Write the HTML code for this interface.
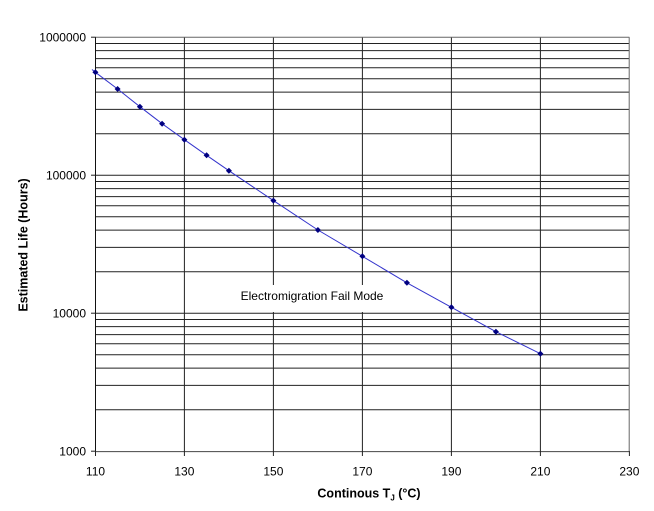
<!DOCTYPE html>
<html><head><meta charset="utf-8"><style>
html,body{margin:0;padding:0;background:#fff;}
svg{display:block;font-family:"Liberation Sans",Arial,sans-serif;}
</style></head><body>
<svg width="654" height="511" viewBox="0 0 654 511" xmlns="http://www.w3.org/2000/svg">
<rect width="654" height="511" fill="#fff"/>
<g stroke="#222" stroke-width="1" fill="none">
<!-- decade 1e5-1e6 minor -->
<line x1="95.4" x2="629.4" y1="43.5" y2="43.5"/>
<line x1="95.4" x2="629.4" y1="50.6" y2="50.6"/>
<line x1="95.4" x2="629.4" y1="58.6" y2="58.6"/>
<line x1="95.4" x2="629.4" y1="67.8" y2="67.8"/>
<line x1="95.4" x2="629.4" y1="78.7" y2="78.7"/>
<line x1="95.4" x2="629.4" y1="92.1" y2="92.1"/>
<line x1="95.4" x2="629.4" y1="109.4" y2="109.4"/>
<line x1="95.4" x2="629.4" y1="133.7" y2="133.7"/>
<line x1="95.4" x2="629.4" y1="175.2" y2="175.2"/>
<!-- decade 1e4-1e5 -->
<line x1="95.4" x2="629.4" y1="181.5" y2="181.5"/>
<line x1="95.4" x2="629.4" y1="188.6" y2="188.6"/>
<line x1="95.4" x2="629.4" y1="196.6" y2="196.6"/>
<line x1="95.4" x2="629.4" y1="205.8" y2="205.8"/>
<line x1="95.4" x2="629.4" y1="216.7" y2="216.7"/>
<line x1="95.4" x2="629.4" y1="230.1" y2="230.1"/>
<line x1="95.4" x2="629.4" y1="247.4" y2="247.4"/>
<line x1="95.4" x2="629.4" y1="271.7" y2="271.7"/>
<line x1="95.4" x2="629.4" y1="313.2" y2="313.2"/>
<!-- decade 1e3-1e4 -->
<line x1="95.4" x2="629.4" y1="319.5" y2="319.5"/>
<line x1="95.4" x2="629.4" y1="326.6" y2="326.6"/>
<line x1="95.4" x2="629.4" y1="334.6" y2="334.6"/>
<line x1="95.4" x2="629.4" y1="343.8" y2="343.8"/>
<line x1="95.4" x2="629.4" y1="354.7" y2="354.7"/>
<line x1="95.4" x2="629.4" y1="368.1" y2="368.1"/>
<line x1="95.4" x2="629.4" y1="385.4" y2="385.4"/>
<line x1="95.4" x2="629.4" y1="409.7" y2="409.7"/>
<!-- verticals -->
<line x1="184.4" x2="184.4" y1="37.2" y2="451.2"/>
<line x1="273.4" x2="273.4" y1="37.2" y2="451.2"/>
<line x1="362.4" x2="362.4" y1="37.2" y2="451.2"/>
<line x1="451.4" x2="451.4" y1="37.2" y2="451.2"/>
<line x1="540.4" x2="540.4" y1="37.2" y2="451.2"/>
</g>
<!-- borders -->
<line x1="95.4" x2="629.4" y1="37.2" y2="37.2" stroke="#666" stroke-width="1"/>
<line x1="629.2" x2="629.2" y1="37.2" y2="451.2" stroke="#666" stroke-width="1"/>
<line x1="95.4" x2="629.4" y1="451.6" y2="451.6" stroke="#444" stroke-width="1"/>
<line x1="95.5" x2="95.5" y1="37.2" y2="452" stroke="#111" stroke-width="1"/>
<!-- y ticks -->
<g stroke="#222" stroke-width="1">
<line x1="91" x2="95.5" y1="37.2" y2="37.2"/>
<line x1="91" x2="95.5" y1="175.2" y2="175.2"/>
<line x1="91" x2="95.5" y1="313.2" y2="313.2"/>
<line x1="91" x2="95.5" y1="451.2" y2="451.2"/>
<!-- x ticks -->
<line x1="95.5" x2="95.5" y1="451" y2="456"/>
<line x1="184.4" x2="184.4" y1="451" y2="456"/>
<line x1="273.4" x2="273.4" y1="451" y2="456"/>
<line x1="362.4" x2="362.4" y1="451" y2="456"/>
<line x1="451.4" x2="451.4" y1="451" y2="456"/>
<line x1="540.4" x2="540.4" y1="451" y2="456"/>
<line x1="629.4" x2="629.4" y1="451" y2="456"/>
</g>
<!-- annotation box -->
<rect x="237" y="285" width="150" height="27" fill="#fff"/>
<text x="312" y="300" font-size="12" text-anchor="middle" fill="#000">Electromigration Fail Mode</text>
<!-- series -->
<polyline fill="none" stroke="#3333cc" stroke-width="1" points="92,69.5 95.4,72.3 117.6,89 139.9,106.7 162.1,123.7 184.4,139.7 206.6,155.3 228.9,170.7 273.4,200.6 317.9,230 362.4,256.3 406.9,282.8 451.4,307.3 495.9,331.7 540.4,353.7"/>
<g fill="#000080">
<path d="M95.4 69.3 L98.4 72.3 L95.4 75.3 L92.4 72.3Z"/>
<path d="M117.6 86 L120.6 89 L117.6 92 L114.6 89Z"/>
<path d="M139.9 103.7 L142.9 106.7 L139.9 109.7 L136.9 106.7Z"/>
<path d="M162.1 120.7 L165.1 123.7 L162.1 126.7 L159.1 123.7Z"/>
<path d="M184.4 136.7 L187.4 139.7 L184.4 142.7 L181.4 139.7Z"/>
<path d="M206.6 152.3 L209.6 155.3 L206.6 158.3 L203.6 155.3Z"/>
<path d="M228.9 167.7 L231.9 170.7 L228.9 173.7 L225.9 170.7Z"/>
<path d="M273.4 197.6 L276.4 200.6 L273.4 203.6 L270.4 200.6Z"/>
<path d="M317.9 227 L320.9 230 L317.9 233 L314.9 230Z"/>
<path d="M362.4 253.3 L365.4 256.3 L362.4 259.3 L359.4 256.3Z"/>
<path d="M406.9 279.8 L409.9 282.8 L406.9 285.8 L403.9 282.8Z"/>
<path d="M451.4 304.3 L454.4 307.3 L451.4 310.3 L448.4 307.3Z"/>
<path d="M495.9 328.7 L498.9 331.7 L495.9 334.7 L492.9 331.7Z"/>
<path d="M540.4 350.7 L543.4 353.7 L540.4 356.7 L537.4 353.7Z"/>
</g>
<!-- y tick labels -->
<g font-size="12" fill="#000" text-anchor="end">
<text x="86" y="41.5">1000000</text>
<text x="86" y="179.5">100000</text>
<text x="86" y="317.5">10000</text>
<text x="86" y="455.5">1000</text>
</g>
<!-- x tick labels -->
<g font-size="12" fill="#000" text-anchor="middle">
<text x="95.5" y="475.5">110</text>
<text x="184.4" y="475.5">130</text>
<text x="273.4" y="475.5">150</text>
<text x="362.4" y="475.5">170</text>
<text x="451.4" y="475.5">190</text>
<text x="540.4" y="475.5">210</text>
<text x="629.4" y="475.5">230</text>
</g>
<!-- axis titles -->
<text x="369" y="497.5" font-size="12.5" font-weight="bold" text-anchor="middle" fill="#000">Continous T<tspan font-size="8" dy="3">J</tspan><tspan dy="-3"> (°C)</tspan></text>
<text transform="translate(27.5,245) rotate(-90)" font-size="12.5" font-weight="bold" text-anchor="middle" fill="#000">Estimated Life (Hours)</text>
</svg>
</body></html>
